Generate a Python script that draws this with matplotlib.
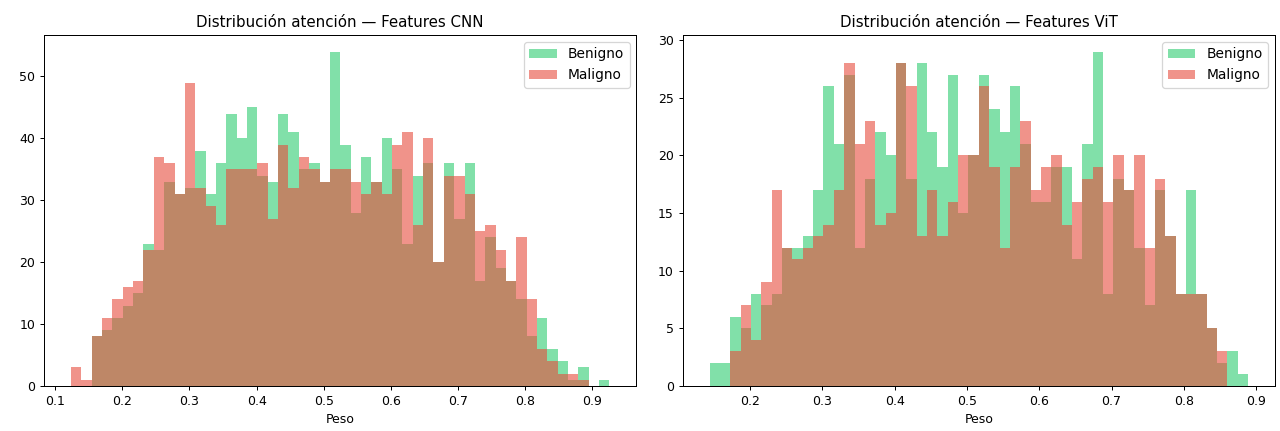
import numpy as np
import matplotlib
matplotlib.use("Agg")
import matplotlib.pyplot as plt

# histogram counts (52 bins per panel)
cnn_range = (0.1234, 0.9258)
cnn_benigno = [0, 0, 8, 9, 11, 13, 15, 23, 22, 33,
               31, 32, 38, 31, 36, 44, 40, 45, 34, 33,
               44, 41, 35, 36, 33, 54, 39, 28, 37, 33,
               40, 35, 23, 34, 36, 20, 36, 27, 36, 17,
               24, 19, 17, 14, 8, 11, 6, 4, 1, 3,
               0, 1]
cnn_maligno = [3, 1, 8, 11, 14, 16, 17, 22, 37, 36,
               31, 49, 32, 29, 26, 35, 35, 35, 36, 27,
               39, 32, 37, 35, 33, 35, 35, 33, 31, 33,
               31, 39, 41, 26, 40, 20, 34, 34, 31, 25,
               26, 22, 17, 24, 14, 6, 4, 2, 2, 1,
               0, 0]

vit_range = (0.1441, 0.8887)
vit_benigno = [2, 2, 6, 5, 8, 7, 8, 12, 12, 13, 17, 26, 21, 27, 12, 18, 22, 20,
               28, 18, 28, 22, 19, 27, 15, 20, 27, 24, 22, 26, 21, 16, 16, 19,
               19, 11, 21, 29, 8, 18, 17, 12, 7, 17, 13, 8, 17, 8, 5, 2, 3, 1]
vit_maligno = [0, 0, 3, 7, 4, 9, 17, 12, 11, 12, 13, 14, 17, 28, 21, 23, 14, 15,
               28, 26, 13, 17, 13, 16, 20, 20, 26, 19, 12, 19, 23, 17, 19, 20,
               14, 16, 18, 19, 16, 20, 17, 20, 12, 18, 13, 8, 8, 8, 5, 3, 0, 0]

titles = ["Distribución atención — Features CNN", "Distribución atención — Features ViT"]

fig, axes = plt.subplots(1, 2, figsize=(1280 / 90, 431 / 90), dpi=90)
fig.subplots_adjust(left=0.0344, right=0.9961, bottom=0.1044, top=0.9188, wspace=0.078)

panels = [(cnn_range, cnn_benigno, cnn_maligno), (vit_range, vit_benigno, vit_maligno)]
for ax, (rng, ben, mal), title in zip(axes, panels, titles):
    edges = np.linspace(rng[0], rng[1], len(ben) + 1)
    centers = (edges[:-1] + edges[1:]) / 2
    ax.hist(centers, bins=edges, weights=ben, color="#2ecc71", alpha=0.6, label="Benigno")
    ax.hist(centers, bins=edges, weights=mal, color="#e74c3c", alpha=0.6, label="Maligno")
    ax.set_title(title)
    ax.set_xlabel("Peso")
    ax.legend(loc="upper right", fontsize=11)

fig.savefig("out.png", dpi=90)
